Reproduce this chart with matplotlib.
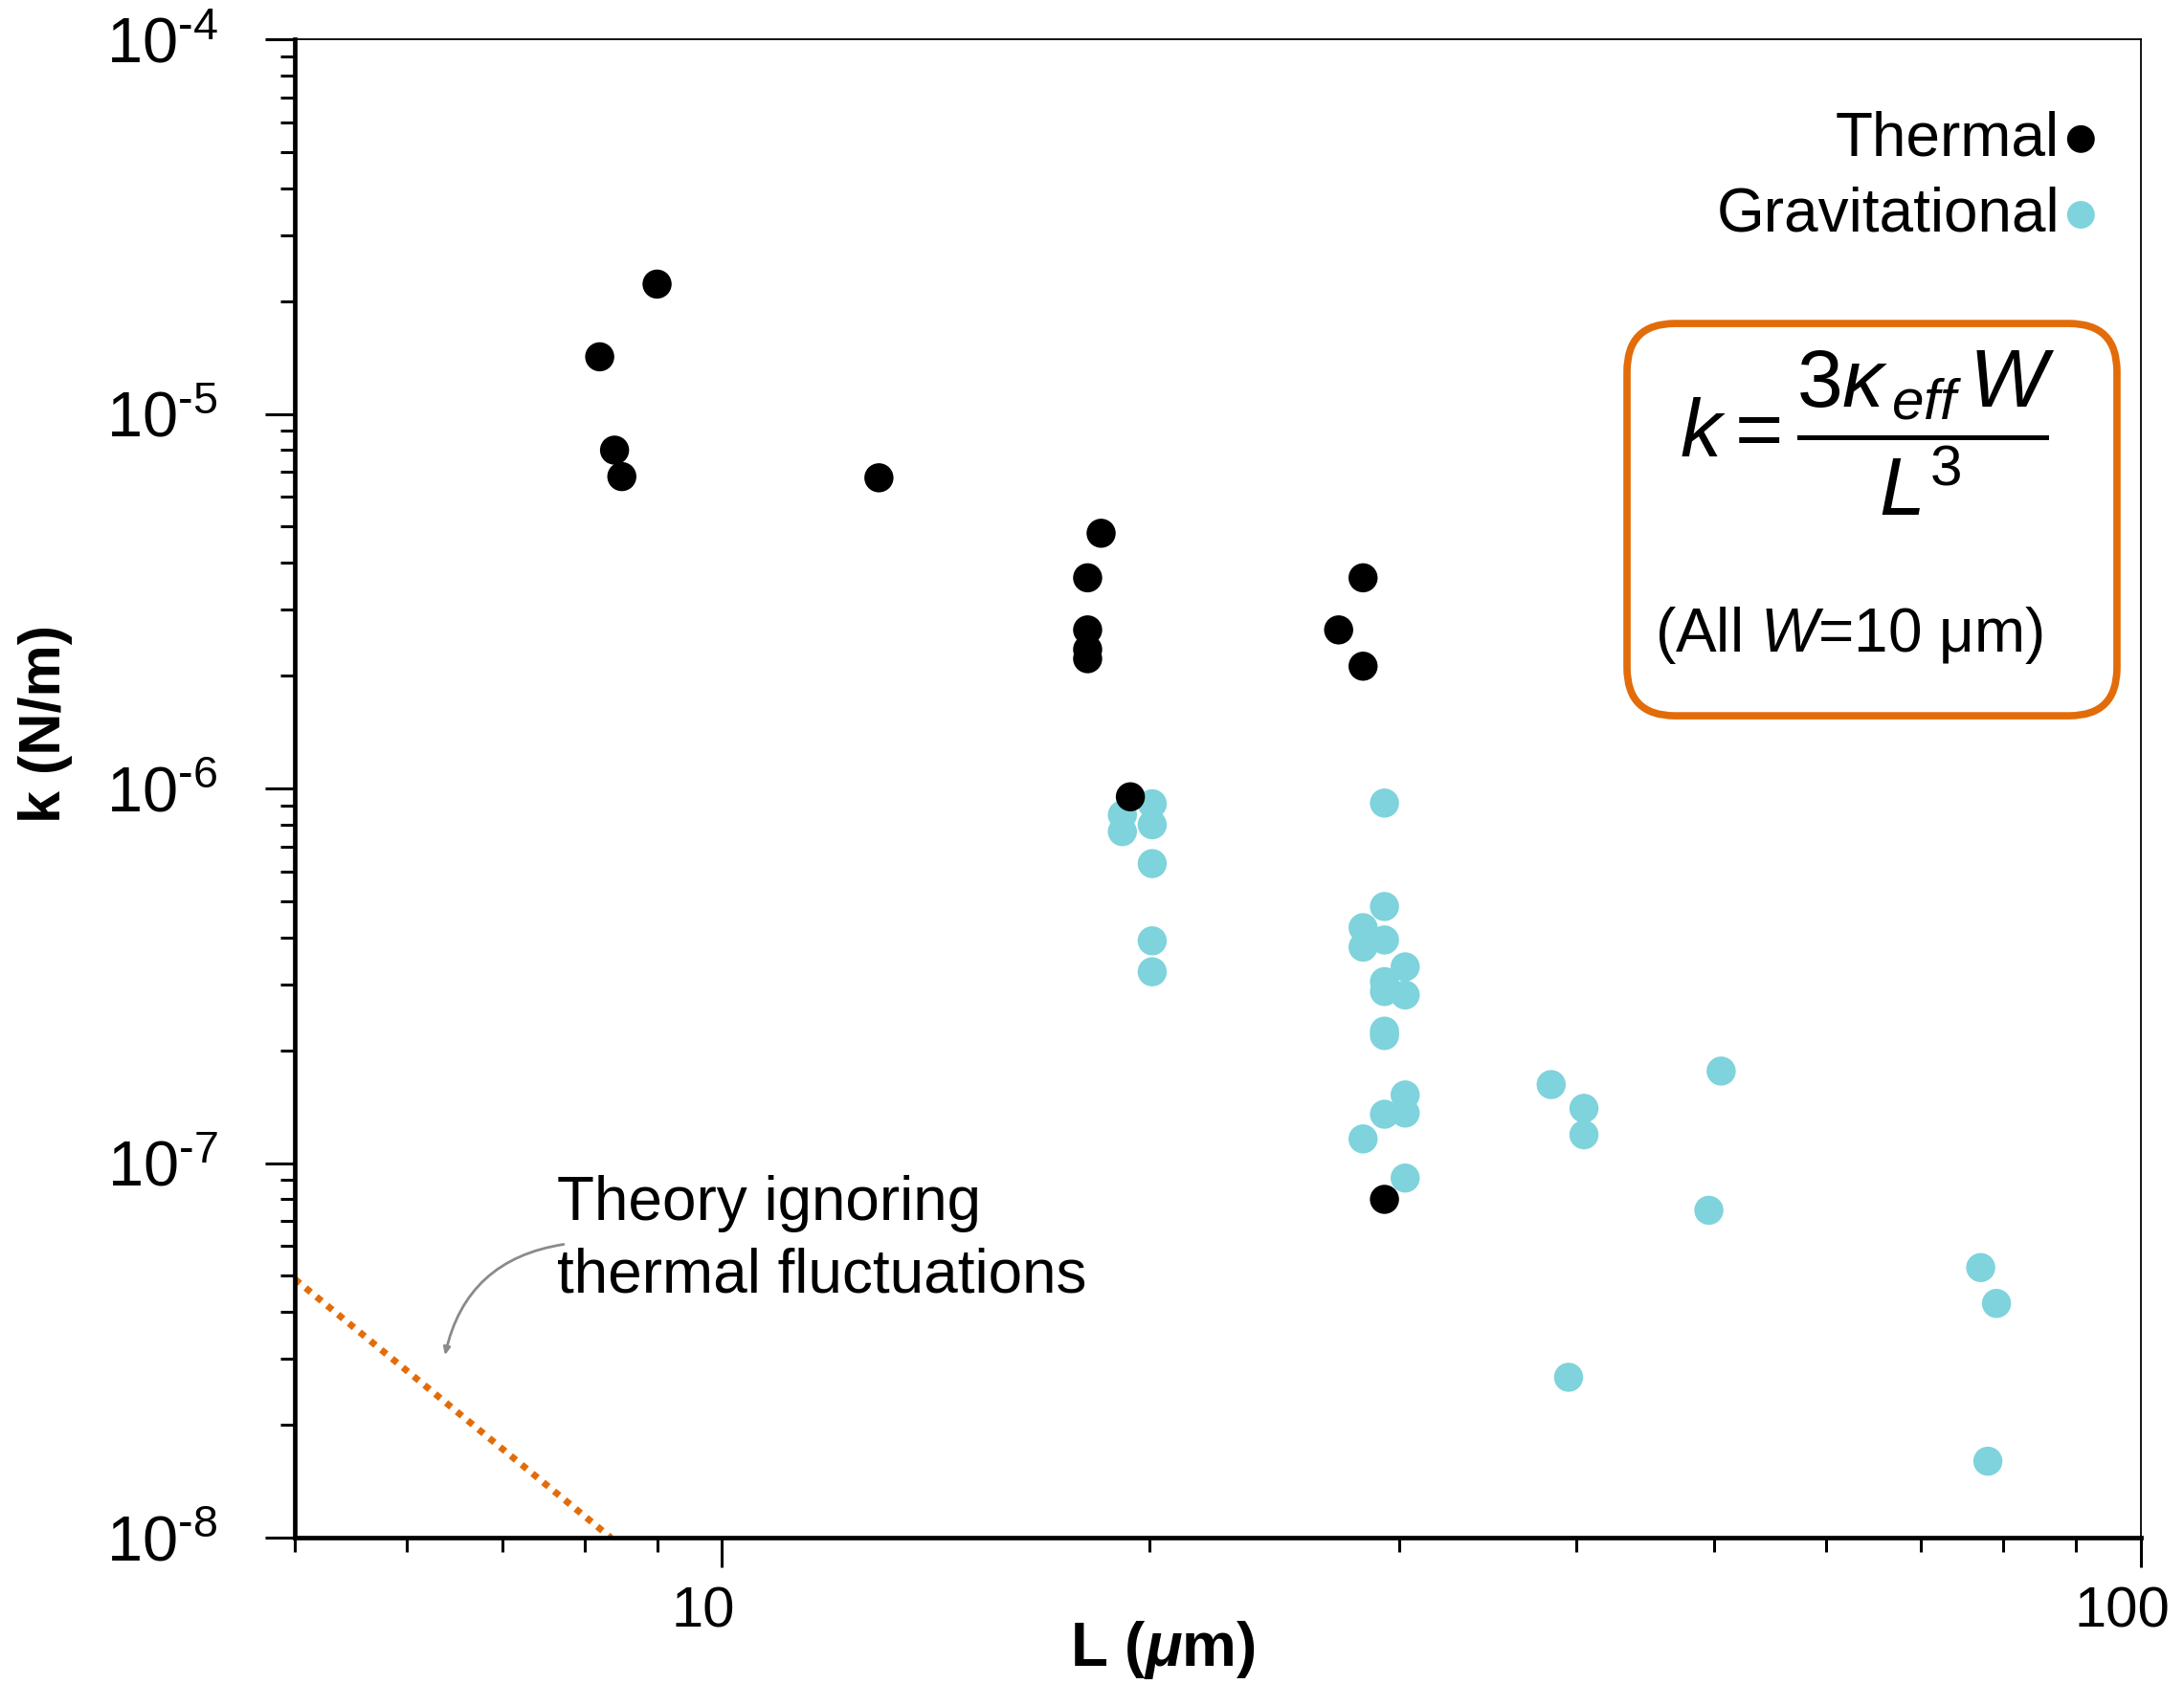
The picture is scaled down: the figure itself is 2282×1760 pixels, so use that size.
import matplotlib
matplotlib.use("Agg")
import matplotlib.pyplot as plt
import matplotlib.patches as mpatches
import matplotlib.transforms as mtransforms
from matplotlib.ticker import FixedLocator, NullFormatter, LogLocator

plt.rcParams['font.family'] = ['Liberation Sans', 'DejaVu Sans']
plt.rcParams['mathtext.fontset'] = 'custom'
plt.rcParams['mathtext.rm'] = 'Liberation Sans'
plt.rcParams['mathtext.it'] = 'Liberation Sans:italic'
plt.rcParams['mathtext.bf'] = 'Liberation Sans:bold'
plt.rcParams['mathtext.bfit'] = 'Liberation Sans:italic:bold'

# cantilever length L (um) and spring constant k (N/m)
thermal_L = [8.2, 9.0, 8.4, 8.5, 12.9, 18.5, 18.1, 18.1, 18.1, 18.1, 19.4,
             27.2, 28.3, 28.3, 29.3]
thermal_k = [1.42e-5, 2.22e-5, 8.0e-6, 6.8e-6, 6.75e-6, 4.8e-6, 3.65e-6, 2.65e-6,
             2.35e-6, 2.22e-6, 9.5e-7, 2.65e-6, 3.65e-6, 2.12e-6, 8.0e-8]

grav_L = [19.15, 19.15, 20.1, 20.1, 20.1, 20.1, 20.1,
          29.3, 29.3, 28.3, 28.3, 29.3, 30.3, 29.3, 29.3, 30.3, 29.3, 29.3,
          30.3, 30.3, 29.3, 28.3, 30.3,
          38.4, 40.5, 40.5, 39.5, 50.6, 49.6, 77.1, 79.1, 78.0]
grav_k = [8.5e-7, 7.67e-7, 9.1e-7, 8.0e-7, 6.3e-7, 3.92e-7, 3.24e-7,
          9.14e-7, 4.84e-7, 4.25e-7, 3.77e-7, 3.94e-7, 3.34e-7, 3.05e-7, 2.87e-7,
          2.81e-7, 2.25e-7, 2.19e-7, 1.52e-7, 1.36e-7, 1.35e-7, 1.16e-7, 9.12e-8,
          1.62e-7, 1.40e-7, 1.19e-7, 2.68e-8, 1.76e-7, 7.48e-8, 5.26e-8, 4.22e-8,
          1.60e-8]

# theory without thermal fluctuations (k ~ L^-3)
theory_L = [5.0, 8.35]
theory_k = [4.9e-8, 1.0e-8]

x_major = [10, 100]
x_labels = ['10', '100']
x_minor = [5, 6, 7, 8, 9, 20, 30, 40, 50, 60, 70, 80, 90]
y_major = [1e-8, 1e-7, 1e-6, 1e-5, 1e-4]
y_labels = [r'$10^{\text{-}8}$', r'$10^{\text{-}7}$', r'$10^{\text{-}6}$',
            r'$10^{\text{-}5}$', r'$10^{\text{-}4}$']

black = 'black'
cyan = '#7ED3DC'
orange = '#E36C0A'

fig = plt.figure(figsize=(22.82, 17.6), dpi=100)
ax = fig.add_axes([0.1350, 0.0869, 0.8453, 0.8898])

ax.plot(theory_L, theory_k, color=orange, lw=5, linestyle=(0, (1, 1.1)),
        zorder=2)

g = ax.scatter(grav_L, grav_k, s=480, color=cyan, edgecolors='none', zorder=3,
               label='Gravitational')
t = ax.scatter(thermal_L, thermal_k, s=480, color=black, edgecolors='none',
               zorder=4, label='Thermal')

ax.set_xscale('log')
ax.set_yscale('log')
ax.set_xlim(5, 100)
ax.set_ylim(1e-8, 1e-4)

ax.xaxis.set_major_locator(FixedLocator(x_major))
ax.xaxis.set_minor_locator(FixedLocator(x_minor))
ax.set_xticklabels(x_labels)
ax.xaxis.set_minor_formatter(NullFormatter())
ax.yaxis.set_major_locator(FixedLocator(y_major))
ax.set_yticklabels(y_labels)
ax.yaxis.set_minor_locator(LogLocator(base=10, subs=range(2, 10)))
ax.yaxis.set_minor_formatter(NullFormatter())

ax.tick_params(axis='both', which='major', direction='out', length=22,
               width=2.2)
ax.tick_params(axis='both', which='minor', direction='out', length=11,
               width=2.2)
ax.tick_params(axis='y', which='major', pad=36, labelsize=48)
ax.tick_params(axis='x', which='major', pad=14, labelsize=43)

# x tick labels sit a little left of their ticks
shift = mtransforms.ScaledTranslation(-0.2, 0, fig.dpi_scale_trans)
for tick in ax.xaxis.get_major_ticks():
    tick.label1.set_transform(tick.label1.get_transform() + shift)

for side in ['left', 'bottom']:
    ax.spines[side].set_linewidth(3.4)
for side in ['top', 'right']:
    ax.spines[side].set_linewidth(1.3)

ax.set_xlabel(r'$\mathbf{L\ (}\mathbfit{\mu}\mathbf{m)}$', fontsize=46,
              va='center')
ax.xaxis.set_label_coords(0.47, -0.075)
ax.set_ylabel('k (N/m)', fontsize=44, fontweight='bold', va='center')
ax.yaxis.set_label_coords(-0.135, 0.543)

ax.legend(handles=[t, g], loc='upper right', bbox_to_anchor=(0.989, 0.969),
          frameon=False, markerfirst=False, fontsize=46, handlelength=0.5,
          handletextpad=0.1, labelspacing=0.3, markerscale=0.95,
          borderaxespad=0)

# formula box
box = mpatches.FancyBboxPatch((0.7216, 0.5485), 0.2654, 0.2618,
                              boxstyle='round,pad=0,rounding_size=0.026',
                              mutation_aspect=1.232, transform=ax.transAxes,
                              facecolor='white', edgecolor=orange, lw=5.5,
                              zorder=5)
ax.add_patch(box)
ax.text(0.852, 0.737, r'$k = \dfrac{3\kappa_{\,eff}\,W}{L^{3}}$',
        transform=ax.transAxes, ha='center', va='center', fontsize=62,
        zorder=6)
ax.text(0.842, 0.602, r'(All $W$=10 μm)', transform=ax.transAxes,
        ha='center', va='center', fontsize=46, zorder=6)

ax.text(0.142, 0.242, 'Theory ignoring\nthermal fluctuations',
        transform=ax.transAxes, ha='left', va='top', fontsize=46,
        linespacing=1.33)
ax.annotate('', xy=(0.081, 0.120), xytext=(0.147, 0.196),
            xycoords='axes fraction', textcoords='axes fraction',
            arrowprops=dict(arrowstyle='-|>,head_length=0.45,head_width=0.2',
                            color='#8a8a8a', lw=2,
                            connectionstyle='arc3,rad=0.35'))

fig.savefig('out.png', dpi=100)
